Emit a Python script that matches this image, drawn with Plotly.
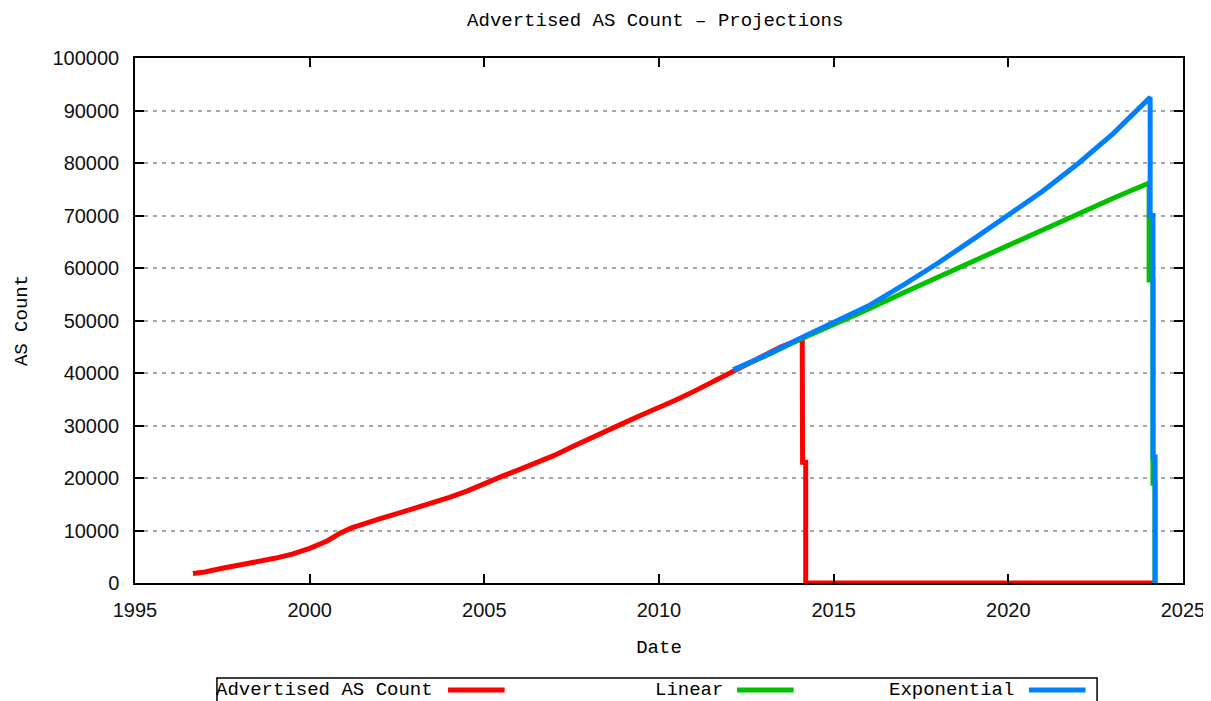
import plotly.graph_objects as go

# Observed advertised AS count (fractional years), padded to zero like the source data
count_years = [1996.66, 1997.0, 1997.5, 1998.0, 1998.5, 1999.0, 1999.5, 2000.0, 2000.5, 2000.87,
               2001.2, 2001.5, 2002.0, 2002.5, 2003.0, 2003.5, 2004.0, 2004.5, 2005.0, 2005.5,
               2006.0, 2006.5, 2007.0, 2007.5, 2008.0, 2008.5, 2009.0, 2009.5, 2010.0, 2010.5,
               2011.0, 2011.5, 2012.0, 2012.5, 2013.0, 2013.5, 2014.1, 2014.11, 2014.2, 2014.2, 2024.2]
count_values = [1800, 2100, 2800, 3400, 4000, 4700, 5500, 6600, 8000, 9500,
                10500, 11200, 12200, 13200, 14200, 15200, 16300, 17500, 19000, 20300,
                21600, 22900, 24300, 25900, 27500, 29000, 30500, 32000, 33400, 34900,
                36500, 38200, 40000, 41800, 43500, 45000, 46600, 23000, 23000, 0, 0]

# Linear projection
linear_years = [2012.13, 2013, 2014, 2015, 2016, 2017, 2018, 2019, 2020, 2021, 2022, 2023,
                2024.03, 2024.03, 2024.14, 2024.14, 2024.2, 2024.2]
linear_values = [40600, 43100, 46300, 49200, 52200, 55300, 58300, 61300, 64400, 67400, 70400, 73300,
                 76200, 57700, 57700, 19000, 19000, 0]

# Exponential projection
expo_years = [2012.13, 2013, 2014, 2015, 2016, 2017, 2018, 2019, 2020, 2021, 2022, 2023,
              2024.06, 2024.06, 2024.14, 2024.14, 2024.2, 2024.2]
expo_values = [40600, 43200, 46500, 49600, 52800, 56800, 61000, 65500, 70000, 74700, 79900, 85600,
               92500, 70000, 70000, 24000, 24000, 0]

series_names = ["Advertised AS Count", "Linear", "Exponential"]
series_colors = ["#ff0000", "#00c000", "#0080ff"]

mono = "Liberation Mono"
sans = "Liberation Sans"

fig = go.Figure()
for xs, ys, name, col in zip([count_years, linear_years, expo_years],
                             [count_values, linear_values, expo_values],
                             series_names, series_colors):
    fig.add_trace(go.Scatter(x=xs, y=ys, mode="lines", name=name,
                             line=dict(color=col, width=5), showlegend=False))

axis_common = dict(showline=True, linecolor="black", linewidth=1.5, mirror="allticks",
                   ticks="inside", ticklen=9, tickwidth=1.5, tickcolor="black",
                   zeroline=False, automargin=False,
                   tickfont=dict(family=sans, size=20, color="#111"),
                   title_font=dict(family=mono, size=19, color="black"))

fig.update_xaxes(range=[1995, 2025], dtick=5, tick0=1995, showgrid=False,
                 ticklabelstandoff=8, title=dict(text="Date", standoff=20), **axis_common)
fig.update_yaxes(range=[0, 100000], dtick=10000, tickformat="d", showgrid=True,
                 gridcolor="#a8a8a8", gridwidth=1.5, griddash="4px,5px",
                 ticklabelstandoff=10, title=dict(text="AS Count", standoff=20), **axis_common)

# gnuplot-style legend box below the plot: label text followed by line sample
sample_x = [0.2987, 0.5745, 0.8530]
shapes = [dict(type="rect", xref="paper", yref="paper", x0=0.0782, x1=0.918, y0=-0.25, y1=-0.181,
               line=dict(color="black", width=1.5), fillcolor="rgba(0,0,0,0)")]
annotations = []
for sx, name, col in zip(sample_x, series_names, series_colors):
    annotations.append(dict(text=name, x=sx - 0.012, y=-0.204, xref="paper", yref="paper",
                            xanchor="right", yanchor="middle", showarrow=False,
                            font=dict(family=mono, size=19, color="black")))
    shapes.append(dict(type="line", xref="paper", yref="paper", x0=sx, x1=sx + 0.054,
                       y0=-0.204, y1=-0.204, line=dict(color=col, width=5)))

# the page body adds an 8px offset, so the figure is 8px smaller on each side
fig.update_layout(
    width=1203, height=693,
    margin=dict(l=127, r=28, t=50, b=118),
    paper_bgcolor="white", plot_bgcolor="white",
    title=dict(text="Advertised AS Count \u2013 Projections", x=0.538, xanchor="center",
               y=0.983, yanchor="middle", font=dict(family=mono, size=19, color="black")),
    shapes=shapes, annotations=annotations,
)

fig.write_html("out.html")
